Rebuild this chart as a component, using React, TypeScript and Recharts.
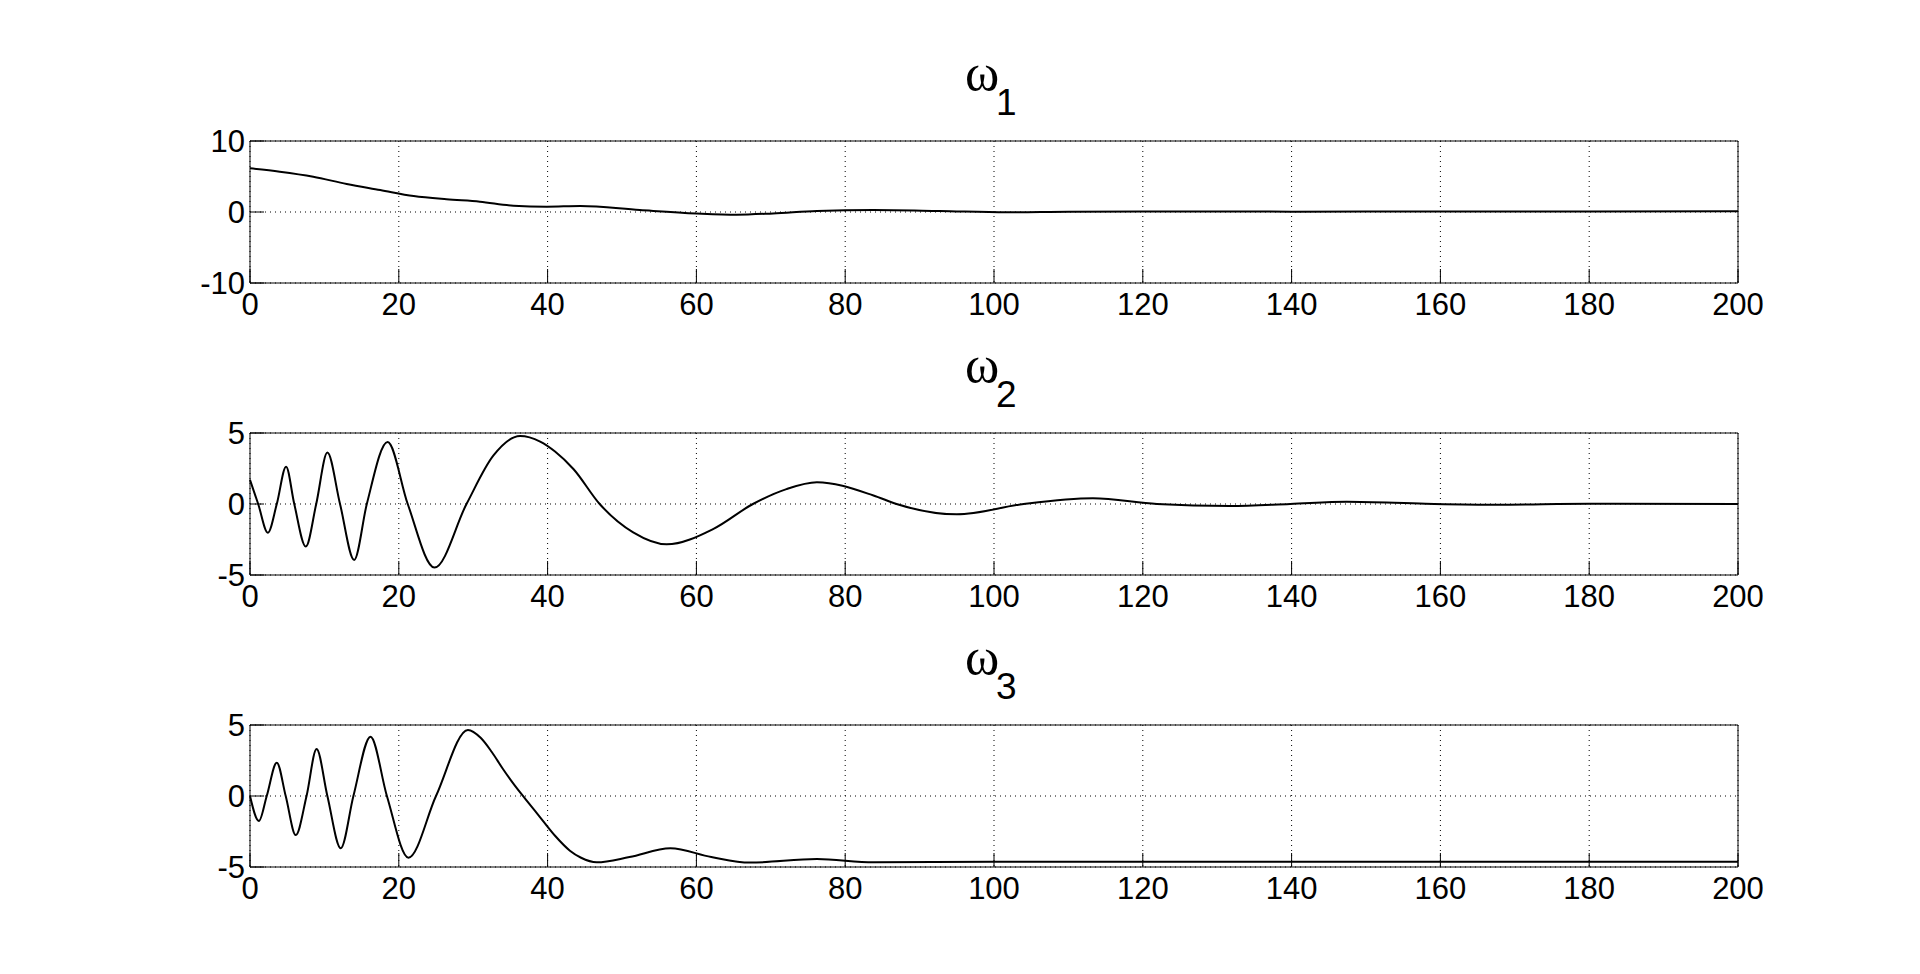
import React from 'react';
import { LineChart, Line, XAxis, YAxis, CartesianGrid } from 'recharts';

// shared x ticks (time)
const xTicks = [0, 20, 40, 60, 80, 100, 120, 140, 160, 180, 200];

// omega_1
const t1 = [0, 4, 8.5, 13, 17.5, 22, 26.4, 30.9, 35.4, 39.9, 44.4, 52.4, 60, 65.4, 70.3, 76.2, 83.8, 92.7, 101.7, 110, 120, 140, 160, 180, 200];
const w1 = [6.15, 5.68, 4.97, 3.94, 3.1, 2.25, 1.79, 1.45, 0.89, 0.75, 0.85, 0.28, -0.2, -0.38, -0.2, 0.14, 0.28, 0.14, -0.05, 0.05, 0.08, 0.05, 0.08, 0.08, 0.1];

// omega_2
const t2 = [0, 1.1, 2.4, 3.6, 4.85, 5.95, 7.5, 8.9, 10.4, 12.1, 14.0, 15.7, 18.5, 21.2, 24.8, 29.1, 32.7, 36.3, 39.0, 41.0, 43.5, 47.0, 51.5, 56.0, 62.3, 67.6, 72.1, 76.2, 83.8, 86.9, 95.0, 104, 113.3, 121.9, 131.7, 139.8, 147.4, 158, 167.6, 180, 200];
const w2 = [1.7, 0, -2.02, 0, 2.63, 0, -3.0, 0, 3.62, 0, -3.94, 0, 4.37, 0, -4.48, 0, 3.4, 4.79, 4.4, 3.7, 2.45, 0, -2.0, -2.84, -1.75, 0, 1.05, 1.53, 0.6, 0, -0.73, 0, 0.4, 0, -0.14, 0, 0.16, 0.02, -0.05, 0.02, 0];

// omega_3
const t3 = [0, 1.2, 2.25, 3.6, 4.8, 6.15, 7.6, 8.95, 10.4, 12.2, 13.9, 16.2, 18.4, 21.3, 25.0, 29.3, 31, 32.5, 34, 35.5, 37, 39, 41, 43, 44.5, 46.6, 51, 56.5, 62, 67.2, 76.2, 83.8, 100, 200];
const w3 = [0, -1.76, 0, 2.35, 0, -2.75, 0, 3.31, 0, -3.68, 0, 4.18, 0, -4.34, 0, 4.65, 4.1, 3.1, 1.9, 0.8, -0.2, -1.5, -2.8, -3.85, -4.35, -4.67, -4.3, -3.68, -4.3, -4.69, -4.44, -4.67, -4.63, -4.63];

const FONT = '"Liberation Sans", Arial, Helvetica, sans-serif';
const tickStyle = { fontSize: 31, fontFamily: FONT, fill: '#000' };

interface PanelProps {
  t: number[];
  w: number[];
  yDomain: [number, number];
  yTicks: number[];
  top: number;
}

const Panel: React.FC<PanelProps> = ({ t, w, yDomain, yTicks, top }) => {
  const data = t.map((x, i) => ({ t: x, v: w[i] }));
  return (
    <div style={{ position: 'absolute', left: 0, top }}>
      <LineChart width={1920} height={260} data={data} margin={{ top: 59, right: 181, left: 190, bottom: 18 }}>
        <CartesianGrid stroke="#000" strokeDasharray="1 4" strokeWidth={1} />
        <XAxis
          dataKey="t"
          type="number"
          domain={[0, 200]}
          ticks={xTicks}
          height={40}
          tickSize={-14}
          tickMargin={24}
          tick={tickStyle}
          stroke="#000"
          interval={0}
        />
        <XAxis
          xAxisId="top"
          orientation="top"
          type="number"
          domain={[0, 200]}
          ticks={xTicks}
          height={1}
          tickSize={-14}
          tick={false}
          stroke="#000"
          interval={0}
        />
        <YAxis
          type="number"
          domain={yDomain}
          ticks={yTicks}
          width={60}
          tickSize={-14}
          tickMargin={19}
          tick={tickStyle}
          stroke="#000"
          interval={0}
        />
        <YAxis
          yAxisId="right"
          orientation="right"
          type="number"
          domain={yDomain}
          ticks={yTicks}
          width={1}
          tickSize={-14}
          tick={false}
          stroke="#000"
          interval={0}
        />
        <Line type="monotone" dataKey="v" stroke="#000" strokeWidth={2} dot={false} isAnimationActive={false} />
      </LineChart>
    </div>
  );
};

const titles = [
  { sub: '1', base: 90 },
  { sub: '2', base: 382 },
  { sub: '3', base: 674 },
];

export default function App() {
  return (
    <div style={{ position: 'absolute', left: 0, top: 0, width: 1920, height: 974, background: '#fff', overflow: 'hidden' }}>
      <Panel t={t1} w={w1} yDomain={[-10, 10]} yTicks={[-10, 0, 10]} top={81} />
      <Panel t={t2} w={w2} yDomain={[-5, 5]} yTicks={[-5, 0, 5]} top={373} />
      <Panel t={t3} w={w3} yDomain={[-5, 5]} yTicks={[-5, 0, 5]} top={665} />
      <svg width={1920} height={974} style={{ position: 'absolute', left: 0, top: 0, pointerEvents: 'none' }}>
        {titles.map((tt) => (
          <g key={tt.sub}>
            <text x={965} y={tt.base} fontSize={52} fontFamily='"Liberation Serif", "Times New Roman", serif' fill="#000">
              ω
            </text>
            <text x={996} y={tt.base + 25} fontSize={37} fontFamily={FONT} fill="#000">
              {tt.sub}
            </text>
          </g>
        ))}
      </svg>
    </div>
  );
}
